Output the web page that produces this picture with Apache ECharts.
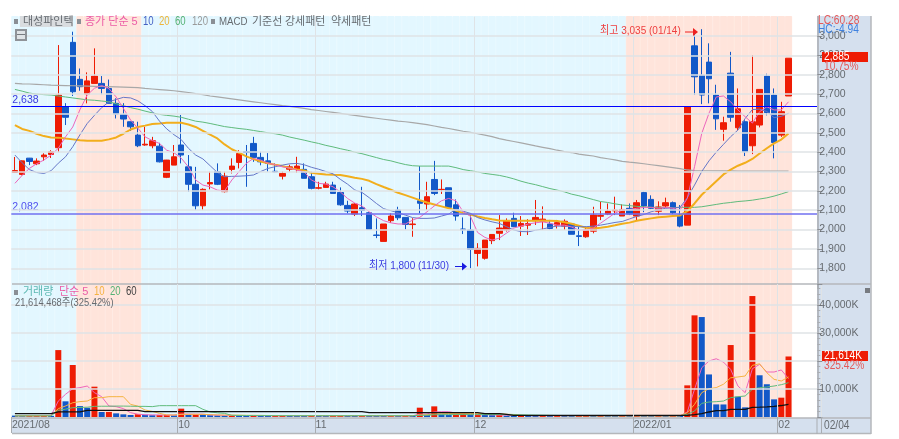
<!DOCTYPE html>
<html>
<head>
<meta charset="utf-8">
<style>
  html, body { margin: 0; padding: 0; background: #fff; }
  #main { width: 899px; height: 439px; filter: blur(0.4px); }
</style>
<script src="https://cdn.jsdelivr.net/npm/echarts@6/dist/echarts.min.js"></script>
</head>
<body>
<div id="main"></div>
<script>
// daily candles, ten per line
var opens = [
    2295,2285,2369,2340,2376,2388,2423,2634,2967,2776,
    2700,2755,2755,2729,2652,2595,2557,2488,2437,2433,
    2431,2270,2333,2437,2324,2234,2123,2236,2299,2196,
    2311,2347,2402,2445,2373,2355,2301,2276,2312,2311,
    2311,2273,2214,2218,2230,2192,2125,2080,2113,2087,
    1972,1939,2046,2101,2063,2026,2149,2132,2259,2206,
    2216,2128,2003,1998,1877,1852,1943,1981,1998,2058,
    2018,2023,2046,2044,2029,2023,2018,2029,1968,1963,
    1992,2069,2080,2097,2070,2110,2070,2191,2156,2095,
    2122,2139,2075,2023,2949,2797,2865,2695,2518,2808,
    2526,2557,2433,2540,2793,2695,2488,2690
];
var closes = [
    2305,2355,2352,2354,2385,2402,2695,2580,2712,2738,
    2768,2793,2729,2652,2597,2571,2531,2433,2441,2459,
    2350,2359,2376,2385,2234,2123,2208,2243,2234,2276,
    2328,2393,2398,2373,2350,2342,2298,2290,2324,2328,
    2265,2213,2216,2235,2187,2128,2096,2132,2099,2001,
    1970,2029,2070,2061,2027,2029,2136,2170,2187,2208,
    2115,2070,1999,1898,1903,1946,1975,2008,2046,2015,
    2032,2031,2063,2054,2006,2036,2043,1976,1965,1998,
    2075,2073,2096,2101,2104,2080,2139,2122,2110,2117,
    2139,2087,2018,2634,2789,2695,2779,2572,2552,2580,
    2624,2402,2557,2724,2604,2450,2609,2885
];
var lows = [
    2295,2280,2333,2333,2355,2370,2400,2540,2690,2717,
    2652,2755,2699,2652,2574,2531,2510,2426,2433,2420,
    2347,2266,2333,2342,2196,2101,2101,2208,2230,2192,
    2290,2316,2221,2350,2332,2299,2297,2259,2299,2294,
    2265,2208,2208,2218,2187,2123,2084,2070,2070,2000,
    1956,1939,2034,2049,2001,1963,2084,2101,2178,2184,
    2113,2046,1977,1800,1810,1845,1925,1946,1990,2013,
    1967,1972,2024,1998,2001,2006,1998,1976,1915,1958,
    1981,2049,2075,2075,2070,2075,2046,2090,2105,2075,
    2112,2080,2012,2023,2695,2648,2652,2515,2459,2557,
    2514,2380,2390,2528,2590,2368,2479,2690
];
var highs = [
    2375,2357,2370,2368,2394,2410,2953,2653,3022,2832,
    2812,2936,2793,2775,2678,2653,2557,2557,2531,2479,
    2448,2360,2437,2592,2385,2324,2213,2299,2342,2299,
    2368,2410,2437,2479,2402,2395,2342,2300,2335,2376,
    2342,2299,2247,2247,2247,2218,2149,2137,2221,2090,
    2058,2029,2084,2118,2063,2059,2328,2247,2355,2259,
    2216,2156,2063,2085,1930,1946,1975,2075,2058,2087,
    2070,2054,2153,2120,2050,2050,2053,2029,2015,2015,
    2118,2144,2135,2170,2130,2135,2153,2196,2177,2146,
    2165,2145,2127,2634,3013,3035,2962,2748,2583,2918,
    2729,2565,2901,2724,2805,2729,2660,2885
];

var priceMa5 = [
    2239,2280,2316,2340,2359,2385,2420,2479,2530,2620,
    2695,2730,2744,2729,2685,2626,2566,2524,2479,2460,
    2445,2410,2397,2369,2324,2256,2230,2221,2204,2200,
    2256,2299,2342,2368,2359,2343,2335,2324,2318,2307,
    2299,2256,2239,2235,2221,2195,2161,2137,2122,2092,
    2066,2046,2035,2029,2029,2049,2063,2092,2122,2149,
    2161,2149,2092,2069,1985,1960,1946,1956,1982,2008,
    2018,2029,2035,2040,2033,2023,2023,2013,1998,1998,
    2008,2033,2059,2085,2101,2104,2110,2115,2115,2110,
    2115,2110,2101,2161,2325,2497,2601,2685,2690,2660,
    2618,2583,2550,2609,2634,2618,2618,2660
];
var priceMa10 = [
    2385,2345,2310,2295,2290,2304,2343,2376,2428,2490,
    2548,2590,2630,2660,2672,2683,2680,2665,2640,2610,
    2560,2520,2490,2465,2420,2385,2365,2330,2295,2273,
    2275,2276,2278,2282,2300,2316,2325,2333,2340,2342,
    2335,2322,2312,2300,2288,2260,2235,2205,2192,2165,
    2135,2108,2098,2087,2075,2062,2058,2058,2060,2070,
    2080,2106,2095,2084,2062,2050,2040,2032,2015,1998,
    1990,1989,1997,2003,2012,2018,2018,2017,2015,2015,
    2018,2023,2030,2037,2042,2055,2068,2078,2092,2103,
    2110,2113,2115,2165,2230,2300,2355,2400,2440,2480,
    2514,2574,2620,2622,2610,2578,2585,2600
];
var priceMa20 = [
    2540,2520,2510,2495,2483,2476,2475,2470,2466,2462,
    2459,2459,2459,2466,2476,2495,2517,2530,2537,2545,
    2548,2552,2552,2552,2543,2530,2510,2490,2471,2440,
    2415,2397,2378,2364,2352,2343,2335,2328,2318,2311,
    2305,2293,2288,2285,2283,2282,2275,2268,2262,2252,
    2235,2220,2206,2190,2178,2165,2152,2140,2130,2120,
    2110,2098,2085,2078,2068,2060,2053,2047,2046,2046,
    2046,2046,2046,2046,2046,2044,2038,2030,2020,2010,
    2006,2010,2015,2022,2030,2036,2046,2052,2058,2064,
    2067,2070,2073,2095,2135,2180,2215,2250,2285,2310,
    2330,2345,2365,2393,2420,2445,2465,2497
];
var priceMa60 = [
    2724,2715,2705,2700,2697,2695,2690,2685,2680,2675,
    2670,2668,2664,2660,2650,2640,2630,2622,2612,2603,
    2595,2590,2586,2580,2570,2560,2555,2548,2540,2532,
    2527,2522,2518,2512,2506,2500,2495,2488,2478,2470,
    2462,2453,2445,2435,2427,2418,2410,2400,2392,2382,
    2372,2362,2355,2345,2336,2330,2328,2328,2328,2328,
    2328,2320,2310,2304,2298,2290,2285,2280,2272,2262,
    2250,2240,2232,2222,2212,2204,2195,2183,2175,2165,
    2155,2145,2140,2133,2127,2124,2120,2118,2115,2115,
    2114,2114,2115,2115,2115,2118,2124,2130,2136,2140,
    2145,2148,2152,2158,2164,2173,2184,2196
];
var priceMa120 = [
    2755,2753,2752,2750,2748,2746,2745,2744,2743,2742,
    2741,2740,2739,2738,2737,2736,2735,2733,2729,2726,
    2723,2720,2717,2713,2708,2702,2697,2690,2685,2680,
    2675,2670,2665,2660,2655,2650,2645,2640,2636,2631,
    2626,2620,2615,2610,2605,2600,2595,2590,2585,2580,
    2575,2570,2565,2560,2557,2552,2547,2542,2535,2528,
    2522,2515,2508,2502,2495,2488,2480,2470,2462,2455,
    2448,2440,2432,2425,2418,2410,2403,2398,2390,2385,
    2380,2372,2366,2360,2352,2348,2345,2340,2335,2330,
    2325,2320,2315,2308,2305,2304,2304,2303,2303,2303,
    2302,2302,2302,2302,2302,2302,2302,2302
];

// volume in thousands of shares
var volumes = [
    500,450,480,520,560,420,23900,5600,18570,3900,
    3300,10830,1790,1800,1300,950,710,1000,800,650,
    700,720,600,2980,800,820,800,650,600,550,
    620,500,450,550,520,430,480,520,500,470,
    450,500,480,420,460,500,470,430,480,460,
    440,420,450,430,470,460,3330,700,3800,900,
    700,800,1050,900,950,700,650,700,500,450,
    520,480,430,500,460,520,480,430,450,480,
    430,460,440,420,450,430,470,440,420,460,
    430,450,420,11300,36300,35700,15200,4500,4480,25700,
    7260,3450,43200,14900,11700,6300,6900,21614
];
var volMa5 = [
    400,420,430,450,470,490,5700,8100,10100,10500,
    11060,8700,7250,3930,3700,3000,1550,1000,800,750,
    720,700,680,1000,1050,1000,1000,750,650,600,
    550,550,520,500,500,480,470,470,480,470,
    470,470,470,460,460,460,470,470,460,460,
    450,440,440,440,440,450,1000,1100,1800,1900,
    1900,1400,1300,850,850,850,800,700,650,600,
    550,500,480,480,470,470,470,470,460,460,
    450,450,450,450,440,440,440,440,440,440,
    440,440,440,1790,9900,17600,20000,20800,19600,17000,
    11070,8700,17260,18800,16070,16070,16800,13700
];
var volMa10 = [
    400,410,420,430,440,450,2980,3930,5100,5500,
    5700,6900,6900,7260,7260,7260,4500,3900,2500,2000,
    1300,750,700,950,950,950,950,850,750,700,
    680,650,600,600,580,530,510,500,490,480,
    470,470,470,470,460,460,460,460,460,460,
    460,460,450,450,450,450,720,780,1100,1150,
    1200,1200,1200,1200,1200,1200,1150,1100,1000,900,
    600,520,500,480,480,470,470,470,460,460,
    450,450,450,450,440,440,440,440,440,440,
    440,440,440,1550,4500,8700,10100,10500,11700,14000,
    14300,14640,18450,19000,15800,13450,12850,14300
];
var volMa20 = [
    400,400,400,410,410,420,2380,2800,3330,3400,
    3500,3800,3850,3850,3900,3900,3850,3800,3800,3700,
    4050,4050,4050,4050,4050,4050,2740,1800,1500,1300,
    600,560,540,520,510,500,490,480,480,470,
    470,470,470,470,470,470,470,470,470,470,
    460,460,460,460,460,460,600,640,800,830,
    860,860,870,870,870,880,880,880,860,800,
    750,700,660,620,580,540,500,480,470,470,
    450,450,450,450,450,450,450,450,450,450,
    440,440,440,950,2140,4880,5350,5470,5700,6900,
    7260,7500,9900,10500,10700,11070,11540,12260
];
var volMa60 = [
    1200,1200,1200,1200,1200,1200,1800,1800,1800,1800,
    2380,2380,2380,2380,2380,2380,2380,2380,1900,1900,
    1900,1900,1900,1900,1900,1900,1900,1900,1900,1900,
    1900,1900,1900,1900,1900,1900,1900,1900,1900,1900,
    1900,1900,1900,1900,1900,1900,1900,1900,1900,1540,
    1540,1540,1540,1540,1540,1540,1540,1540,1540,1540,
    1540,1540,1540,1540,1540,1190,1190,1190,950,600,
    600,600,600,600,600,600,600,600,600,600,
    600,600,600,600,600,600,600,600,600,600,
    600,600,600,600,850,1190,1790,2260,2260,2730,
    2730,2730,3450,3500,3600,3800,4100,4500
];

// first band of each month on the axis, and the shaded stretches
var monthStarts = [0, 23, 42, 64, 86, 106];
var monthLabels = ['2021/08', '10', '11', '12', '2022/01', '02'];
var shadedRanges = [[9, 17], [85, 107]];
var slotCount = 112;   // 108 days plus the empty slots on the right

var RED = '#ee1c04', BLUE = '#1258c8', GREY = '#666b70', GRID = '#dfe3e6';
var FONT = '"Liberation Sans", "Noto Sans CJK KR", sans-serif';

var categories = [];
var panelBack = [];
for (var i = 0; i < slotCount; i++) {
    var m = monthStarts.indexOf(i);
    categories.push(m >= 0 ? monthLabels[m] : '');
    if (i < closes.length) {
        var shaded = shadedRanges.some(function (r) { return i >= r[0] && i <= r[1]; });
        var fill = shaded ? '#ffe4db' : '#e3f7ff';
        panelBack.push({ value: 1, itemStyle: { color: fill, borderColor: fill, borderWidth: 1 } });
    } else {
        panelBack.push(null);
    }
}

var candles = opens.map(function (o, i) { return [o, closes[i], lows[i], highs[i]]; });
var volumeBars = volumes.map(function (v, i) {
    var up = i > 0 && v >= volumes[i - 1];
    return { value: v, itemStyle: { color: up ? RED : BLUE } };
});
var isMonthStart = function (i) { return monthStarts.indexOf(i) >= 0; };

function lineSeries(name, data, color, width, axis) {
    return {
        name: name, type: 'line', data: data, xAxisIndex: axis, yAxisIndex: axis,
        symbol: 'none', smooth: false, z: 3, silent: true,
        lineStyle: { color: color, width: width }
    };
}
// squeeze is a horizontal scale, the original font runs narrow
function label(x, y, text, color, size, squeeze) {
    return {
        type: 'text', x: x, y: y, z: 10, silent: true, scaleX: squeeze || 1,
        style: { text: text, fill: color, font: (size || 11) + 'px ' + FONT, textVerticalAlign: 'middle' }
    };
}
function box(x, y, w, h, color, z) {
    return { type: 'rect', z: z || 5, silent: true, shape: { x: x, y: y, width: w, height: h }, style: { fill: color } };
}
function rule(x1, y1, x2, y2, color, width) {
    return {
        type: 'line', z: 6, silent: true, shape: { x1: x1, y1: y1, x2: x2, y2: y2 },
        style: { stroke: color, lineWidth: width || 1 }
    };
}
function arrow(x1, x2, y, color) {
    return [
        rule(x1, y, x2 - 4, y, color, 1),
        {
            type: 'polygon', z: 10, silent: true,
            shape: { points: [[x2 - 5, y - 4], [x2, y], [x2 - 5, y + 4]] },
            style: { fill: color }
        }
    ];
}

var xBase = { type: 'category', data: categories, boundaryGap: true };
var myChart = echarts.init(document.getElementById('main'));

var option = {
    animation: false,
    backgroundColor: '#ffffff',
    grid: [
        { left: 11.3, top: 16.6, width: 809.76, height: 271.1 },
        { left: 11.3, top: 284, width: 809.76, height: 133 },
        { left: 11.3, top: 16, width: 809.76, height: 402 }
    ],
    xAxis: [
        Object.assign({}, xBase, {
            gridIndex: 0,
            axisLine: { show: false }, axisTick: { show: false }, axisLabel: { show: false },
            splitLine: { show: true, interval: function (i) { return isMonthStart(i) && i > 0; }, lineStyle: { color: GRID, width: 1 } }
        }),
        Object.assign({}, xBase, {
            gridIndex: 1, z: 7,
            axisLine: { show: false },
            axisTick: { show: true, interval: function (i) { return isMonthStart(i); }, length: 16, lineStyle: { color: '#a9adb2' } },
            axisLabel: {
                show: true, interval: function (i) { return isMonthStart(i); },
                color: GREY, fontSize: 10.5, fontFamily: FONT, align: 'left', margin: 3, padding: [0, 0, 0, -3]
            },
            splitLine: { show: true, interval: function (i) { return isMonthStart(i) && i > 0; }, lineStyle: { color: GRID, width: 1 } }
        }),
        Object.assign({}, xBase, { gridIndex: 2, show: false })
    ],
    yAxis: [
        {
            type: 'value', gridIndex: 0, position: 'right', offset: -3.76, z: 7,
            min: 1700, max: 3100, interval: 100,
            axisLine: { show: true, lineStyle: { color: '#a9adb2', width: 1.5 } },
            axisTick: { show: true, length: 5, lineStyle: { color: '#8c9096' } },
            axisLabel: {
                color: GREY, fontSize: 10.5, fontFamily: FONT, margin: 2,
                showMinLabel: false, showMaxLabel: false,
                formatter: function (v) { return v.toLocaleString('en-US'); }
            },
            splitLine: { show: true, showMinLine: false, showMaxLine: false, lineStyle: { color: GRID, width: 1.5 } }
        },
        {
            type: 'value', gridIndex: 1, position: 'right', offset: -3.76, z: 7,
            min: 0, max: 47500, interval: 10000,
            axisLine: { show: true, lineStyle: { color: '#a9adb2', width: 1.5 } },
            axisTick: { show: true, length: 5, lineStyle: { color: '#8c9096' } },
            minorTick: { show: true, splitNumber: 5, length: 3, lineStyle: { color: '#a9adb2' } },
            axisLabel: {
                color: GREY, fontSize: 10.5, fontFamily: FONT, margin: 2,
                showMinLabel: false, showMaxLabel: false,
                formatter: function (v) { return (v === 20000 ? '' : v.toLocaleString('en-US') + 'K'); }
            },
            splitLine: { show: true, showMinLine: false, showMaxLine: false, lineStyle: { color: GRID, width: 1.5 } }
        },
        { type: 'value', gridIndex: 2, min: 0, max: 1, show: false }
    ],
    series: [
        {
            name: 'back', type: 'bar', data: panelBack, xAxisIndex: 2, yAxisIndex: 2,
            barWidth: '100%', silent: true, z: -1
        },
        {
            name: '대성파인텍', type: 'candlestick', data: candles, xAxisIndex: 0, yAxisIndex: 0,
            barWidth: 6, silent: true, z: 2,
            itemStyle: { color: RED, color0: BLUE, borderColor: RED, borderColor0: BLUE, borderWidth: 1 }
        },
        lineSeries('120', priceMa120, '#a8a8a8', 1.2, 0),
        lineSeries('60', priceMa60, '#5fbb7c', 1, 0),
        lineSeries('20', priceMa20, '#f2ae1c', 2, 0),
        lineSeries('10', priceMa10, '#6677c8', 1, 0),
        lineSeries('5', priceMa5, '#ee66bb', 1, 0),
        {
            name: 'levels', type: 'line', data: [], xAxisIndex: 0, yAxisIndex: 0, z: 4, silent: true,
            markLine: {
                silent: true, symbol: 'none', animation: false, z: 4,
                data: [
                    {
                        yAxis: 2638,
                        lineStyle: { color: '#0000ff', width: 1, type: 'solid' },
                        label: { position: 'insideStartTop', formatter: '2,638', color: '#3a3ae0', fontSize: 10.5, fontFamily: FONT, distance: 1 }
                    },
                    {
                        yAxis: 2082,
                        lineStyle: { color: '#7070f0', width: 1.5, type: 'solid' },
                        label: { position: 'insideStartTop', formatter: '2,082', color: '#5050ee', fontSize: 10.5, fontFamily: FONT, distance: 1 }
                    }
                ]
            }
        },
        {
            name: '거래량', type: 'bar', data: volumeBars, xAxisIndex: 1, yAxisIndex: 1,
            barWidth: 6, silent: true, z: 2
        },
        lineSeries('v5', volMa5, '#ee66bb', 1, 1),
        lineSeries('v10', volMa10, '#f5b342', 1, 1),
        lineSeries('v20', volMa20, '#5fbb7c', 1, 1),
        lineSeries('v60', volMa60, '#111111', 1.3, 1)
    ],
    graphic: [
        // right scale panel and date strip
        box(817, 16, 54, 417, '#d5e0ee', 5),
        box(12, 418, 859, 15, '#d5e0ee', 5),
        rule(12, 284, 871, 284, '#b4b7bb', 1.5),
        rule(12, 418, 871, 418, '#b4b7bb', 1.5),
        rule(12, 433.5, 871, 433.5, '#b4b7bb', 1.5),
        rule(871, 16, 871, 434, '#b4b7bb', 1.5),
        rule(817, 418, 817, 434, '#a9adb2', 1),
        label(824, 426, '02/04', GREY, 12, 0.85),
        box(865, 288, 5, 5, '#777b80', 8),

        // top legend
        box(14, 19, 4, 5, '#8a8f95', 8),
        box(20, 16, 53, 11, '#d9dcdf', 4),
        label(23, 22, '대성파인텍', GREY, 11),
        box(77, 19, 4, 5, '#8a8f95', 8),
        label(85, 22, '종가 단순 5', '#ec5ca6', 11),
        label(143, 22, '10', '#4561c4', 12, 0.8),
        label(159, 22, '20', '#eeb53a', 12, 0.8),
        label(175, 22, '60', '#55b275', 12, 0.8),
        label(192, 22, '120', '#9a9a9a', 12, 0.8),
        box(211, 19, 4, 5, '#8a8f95', 8),
        label(219, 22, 'MACD', GREY, 11, 0.88),
        label(252, 22, '기준선', GREY, 11),
        label(285, 22, '강세패턴', GREY, 11),
        label(331, 22, '약세패턴', GREY, 11),
        box(15, 29, 12, 12, '#8f9398', 8),
        box(17, 31, 8, 8, '#dfe3e6', 9),
        box(17, 34, 8, 1, '#777b80', 9),

        // volume legend
        box(14, 290, 4, 5, '#8a8f95', 8),
        label(23, 292, '거래량', '#5cb8b2', 11),
        label(59, 292, '단순 5', '#ec5ca6', 11),
        label(94, 292, '10', '#f5b342', 12, 0.8),
        label(110, 292, '20', '#55b275', 12, 0.8),
        label(126, 292, '60', '#444444', 12, 0.8),
        label(15, 303, '21,614,468주(325.42%)', GREY, 11, 0.85),

        // high and low notes
        label(600, 31, '최고 3,035 (01/14)', '#ee4040', 11, 0.91),
        label(369, 266, '최저 1,800 (11/30)', '#3a3ae0', 11, 0.91)
    ].concat(arrow(685, 698, 32, '#ee2020'), arrow(455, 467, 266.5, '#1a1ae0'), [
        // values pinned on the scale
        label(818, 21, 'LC:60.28', '#e45a5a', 12, 0.85),
        label(818, 30, 'HC:-4.94', '#3f82e0', 12, 0.85),
        box(822, 52, 46, 10, RED, 8),
        label(824, 57, '2,885', '#ffffff', 12, 0.85),
        label(824, 67, '10.75%', '#e45a5a', 12, 0.85),
        box(822, 351, 46, 10, RED, 8),
        label(824, 356, '21,614K', '#ffffff', 12, 0.85),
        label(824, 366, '325.42%', '#e45a5a', 12, 0.85)
    ])
};

myChart.setOption(option);
</script>
</body>
</html>
